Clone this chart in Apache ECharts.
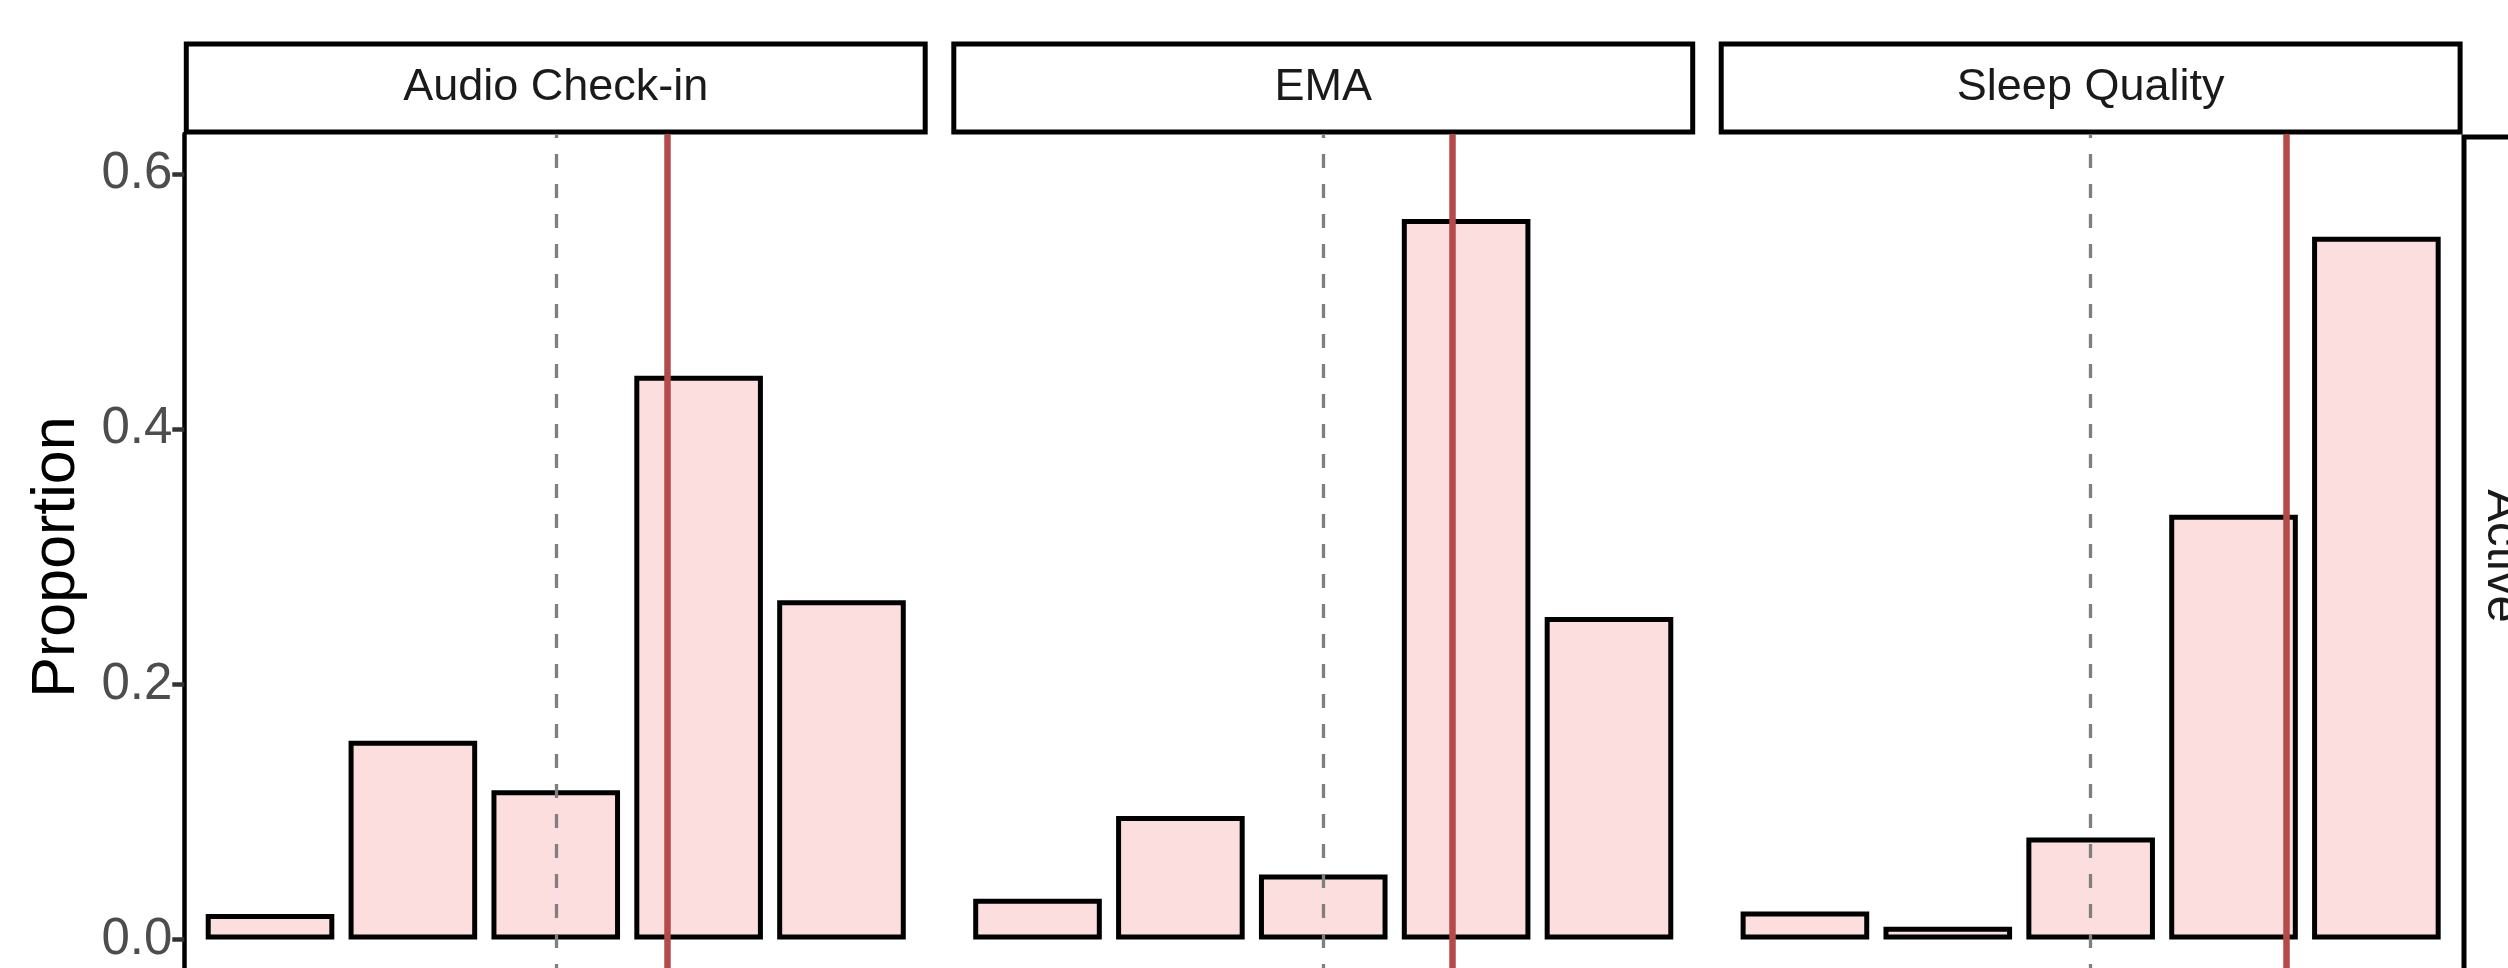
<!DOCTYPE html>
<html>
<head>
<meta charset="utf-8">
<title>Proportion</title>
<script src="https://cdn.jsdelivr.net/npm/echarts@6.0.0/dist/echarts.min.js"></script>
<style>
	html, body { margin: 0; padding: 0; background: #fff; }
	#echarts_box { width: 2508px; height: 968px; }
</style>
</head>
<body>
<div id="echarts_box"></div>
<script>
/*数据*/
var panelNames = ['Audio Check-in', 'EMA', 'Sleep Quality'];
var rowName = 'Active';
var categories = [1, 2, 3, 4, 5];
var audioData = [0.020, 0.156, 0.117, 0.442, 0.266];
var emaData = [0.032, 0.097, 0.051, 0.565, 0.253];
var sleepData = [0.022, 0.010, 0.080, 0.333, 0.551];
var midLine = [3, 3, 3];
var meanLine = [3.78, 3.90, 4.37];
var yTicks = [0, 0.2, 0.4, 0.6];

var panelData = [audioData, emaData, sleepData];

// 面板布局
var panelLeft = [184.3, 951.8, 1719.2];
var panelWidth = 742.9;
var panelTop = 134;
var panelHeight = 844;
var fontName = '"Liberation Sans", Arial, sans-serif';

var myChart = echarts.init(document.getElementById('echarts_box'));

var grids = [], xAxes = [], yAxes = [], series = [], graphics = [];
for (var i = 0; i < panelNames.length; i++) {
	grids.push({
		left: panelLeft[i],
		top: panelTop,
		width: panelWidth,
		height: panelHeight,
		outerBoundsMode: 'none',
		containLabel: false
	});
	xAxes.push({
		type: 'value',
		gridIndex: i,
		min: 0.4,
		max: 5.6,
		show: false
	});
	yAxes.push({
		type: 'value',
		gridIndex: i,
		min: -0.0301,
		max: 0.6316,
		show: i === 0,
		splitLine: { show: false },
		axisLine: { show: true, lineStyle: { color: '#000', width: 4.5 } },
		axisTick: {
			show: true,
			length: 12,
			lineStyle: { color: '#333', width: 4.5 },
			customValues: yTicks
		},
		axisLabel: {
			show: true,
			margin: 12,
			color: '#4D4D4D',
			fontSize: 51,
			fontFamily: fontName,
			customValues: yTicks,
			formatter: function (v) { return v.toFixed(1); }
		}
	});

	/*柱状图*/
	var pts = [];
	for (var j = 0; j < categories.length; j++) {
		pts.push([categories[j], panelData[i][j]]);
	}
	series.push({
		type: 'bar',
		xAxisIndex: i,
		yAxisIndex: i,
		data: pts,
		barWidth: 128.6,
		itemStyle: {
			color: '#FDDEDE',
			borderColor: '#000',
			borderWidth: 5
		},
		z: 2
	});

	/*参考线*/
	series.push({
		type: 'line',
		xAxisIndex: i,
		yAxisIndex: i,
		data: [],
		z: 5,
		markLine: {
			silent: true,
			symbol: 'none',
			label: { show: false },
			animation: false,
			data: [
				{ xAxis: midLine[i], lineStyle: { color: '#7F7F7F', width: 3.3, type: [14, 16] } },
				{ xAxis: meanLine[i], lineStyle: { color: '#B44A4A', width: 6.5, type: 'solid' } }
			]
		}
	});

	/*分面标题*/
	graphics.push({
		type: 'rect',
		shape: { x: panelLeft[i] + 2, y: 44, width: panelWidth - 4, height: 88 },
		style: { fill: '#fff', stroke: '#000', lineWidth: 5 }
	});
	graphics.push({
		type: 'text',
		x: panelLeft[i] + panelWidth / 2,
		y: 88,
		style: {
			text: panelNames[i],
			fill: '#1A1A1A',
			font: '45px ' + fontName,
			align: 'center',
			verticalAlign: 'middle'
		}
	});
}

// 右侧行标题
graphics.push({
	type: 'rect',
	shape: { x: 2464, y: 137, width: 120, height: 900 },
	style: { fill: '#fff', stroke: '#000', lineWidth: 5 }
});
graphics.push({
	type: 'text',
	x: 2502,
	y: 556,
	rotation: -Math.PI / 2,
	style: {
		text: rowName,
		fill: '#1A1A1A',
		font: '49px ' + fontName,
		align: 'center',
		verticalAlign: 'middle'
	}
});
// y轴标题
graphics.push({
	type: 'text',
	x: 57,
	y: 557,
	rotation: Math.PI / 2,
	style: {
		text: 'Proportion',
		fill: '#000',
		font: '61px ' + fontName,
		align: 'center',
		verticalAlign: 'middle'
	}
});

var option = {
	backgroundColor: '#fff',
	animation: false,
	grid: grids,
	xAxis: xAxes,
	yAxis: yAxes,
	series: series,
	graphic: graphics
};
myChart.setOption(option);
</script>
</body>
</html>
